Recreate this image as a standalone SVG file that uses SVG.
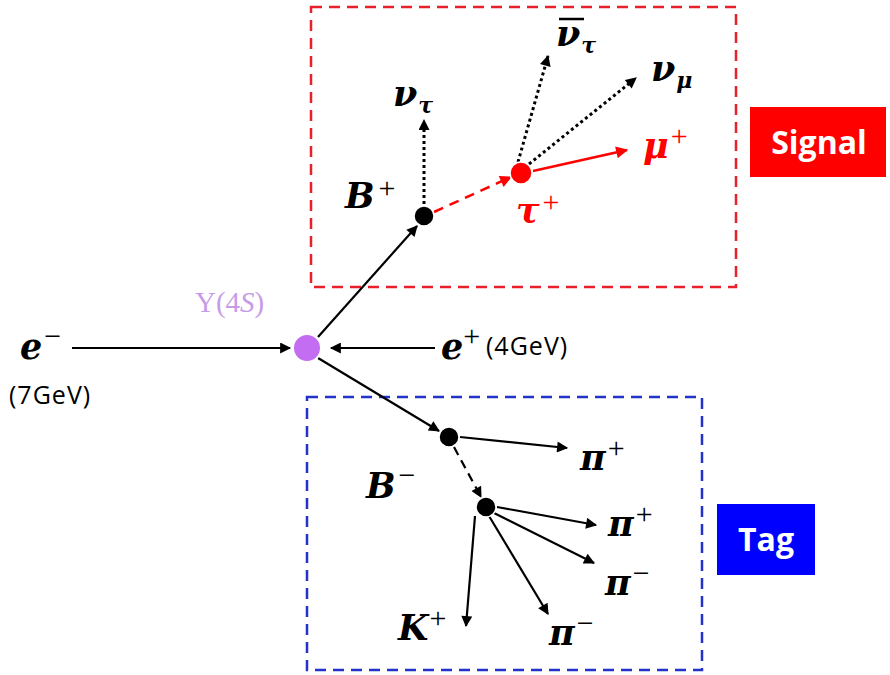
<svg xmlns="http://www.w3.org/2000/svg" width="890" height="675" viewBox="0 0 890 675">
<style>
.m{font-family:"DejaVu Serif","Liberation Serif",serif;font-weight:bold;font-style:italic;font-size:35px;fill:#000}
.sup{font-family:"Liberation Serif","DejaVu Serif",serif;font-weight:normal;font-style:normal;font-size:30px}
.sub{font-family:"DejaVu Serif","Liberation Serif",serif;font-weight:bold;font-style:italic;font-size:22px}
.s{font-family:"Open Sans","Liberation Sans",sans-serif;font-size:25px;letter-spacing:1px;fill:#000}
.ln{stroke:#000;stroke-width:2.2;fill:none}
.dot{stroke:#000;stroke-width:3;fill:none;stroke-dasharray:3 3}
.lab{font-family:"Open Sans","Liberation Sans",sans-serif;font-weight:bold;font-size:32px;fill:#fff;text-anchor:middle}
</style>
<defs>
<marker id="ab" viewBox="0 0 10 10" refX="9" refY="5" markerWidth="14" markerHeight="11" markerUnits="userSpaceOnUse" orient="auto"><path d="M0,0 L10,5 L0,10 z" fill="#000"/></marker>
<marker id="ar" viewBox="0 0 10 10" refX="9" refY="5" markerWidth="15" markerHeight="12" markerUnits="userSpaceOnUse" orient="auto"><path d="M0,0 L10,5 L0,10 z" fill="#ff0000"/></marker>
</defs>
<rect width="890" height="675" fill="#fff"/>
<g id="signal-box"><rect x="311" y="7" width="425" height="280" fill="none" stroke="#e8202a" stroke-width="2.5" stroke-dasharray="11 7"/></g>
<g id="tag-box"><rect x="307" y="397" width="395" height="273" fill="none" stroke="#2233cc" stroke-width="2.5" stroke-dasharray="11 7"/></g>
<g id="signal-label"><rect x="750" y="107" width="136" height="70" fill="#ff0000"/><text class="lab" x="819" y="154">Signal</text></g>
<g id="tag-label"><rect x="717" y="504" width="98" height="71" fill="#0000ff"/><text class="lab" x="766" y="551">Tag</text></g>
<g id="connectors">
<line class="ln" x1="72" y1="348" x2="290" y2="348" marker-end="url(#ab)"/>
<line class="ln" x1="435" y1="348" x2="331" y2="348" marker-end="url(#ab)"/>
<line class="ln" x1="318" y1="337" x2="417" y2="226" marker-end="url(#ab)"/>
<line class="ln" x1="318" y1="358" x2="439" y2="431" marker-end="url(#ab)"/>
<line x1="434" y1="212" x2="511" y2="177" stroke="#ff0000" stroke-width="2.5" stroke-dasharray="10 7" marker-end="url(#ar)"/>
<line class="dot" x1="424" y1="204" x2="424" y2="120" marker-end="url(#ab)"/>
<line class="dot" x1="518" y1="162" x2="548" y2="56" marker-end="url(#ab)"/>
<line class="dot" x1="529" y1="164" x2="636" y2="78" marker-end="url(#ab)"/>
<line x1="533" y1="171" x2="627" y2="150" stroke="#ff0000" stroke-width="2.5" marker-end="url(#ar)"/>
<line class="ln" x1="460" y1="437" x2="567" y2="448" marker-end="url(#ab)"/>
<line class="ln" x1="454" y1="447" x2="481" y2="497" stroke-dasharray="9 6" marker-end="url(#ab)"/>
<line class="ln" x1="497" y1="507" x2="596" y2="525" marker-end="url(#ab)"/>
<line class="ln" x1="494" y1="513" x2="594" y2="563" marker-end="url(#ab)"/>
<line class="ln" x1="489" y1="516" x2="548" y2="614" marker-end="url(#ab)"/>
<line class="ln" x1="475" y1="516" x2="466" y2="626" marker-end="url(#ab)"/>
</g>
<g id="upsilon"><circle cx="307" cy="348" r="14" fill="#c36df2" stroke="#fff" stroke-width="2"/><text x="195" y="312" font-family="Liberation Serif,serif" font-size="29" fill="#c89be9"><tspan font-style="normal">Υ(4</tspan><tspan font-style="italic">S</tspan><tspan>)</tspan></text></g>
<g id="b-plus"><circle cx="424" cy="216" r="10" fill="#000" stroke="#fff" stroke-width="1.5"/><text class="m" x="345" y="208">B<tspan class="sup" dx="4" dy="-10">+</tspan></text></g>
<g id="tau"><circle cx="521" cy="173" r="11" fill="#ff0000" stroke="#fff" stroke-width="1.5"/><text class="m" x="516" y="223" style="fill:#ff0000">τ<tspan class="sup" dx="3" dy="-11">+</tspan></text></g>
<g id="b-minus"><circle cx="449" cy="437" r="10" fill="#000" stroke="#fff" stroke-width="1.5"/><text class="m" x="366" y="498">B<tspan class="sup" dx="3" dy="-13">−</tspan></text></g>
<g id="d-vertex"><circle cx="486" cy="507" r="10" fill="#000" stroke="#fff" stroke-width="1.5"/></g>
<g id="e-minus"><text class="m" x="20" y="359">e<tspan class="sup" dx="2" dy="-13">−</tspan></text><text class="s" x="9" y="404">(7GeV)</text></g>
<g id="e-plus"><text class="m" x="441" y="359">e<tspan class="sup" dx="0" dy="-13">+</tspan></text><text class="s" x="486" y="355">(4GeV)</text></g>
<g id="nu-tau"><text class="m" x="393" y="106">ν<tspan class="sub" dx="1" dy="7">τ</tspan></text></g>
<g id="nubar-tau"><text class="m" x="556" y="46">ν<tspan class="sub" dx="1" dy="7">τ</tspan></text><line x1="559" y1="19" x2="584" y2="19" stroke="#000" stroke-width="2.5"/></g>
<g id="nu-mu"><text class="m" x="651" y="81">ν<tspan class="sub" dx="1" dy="7">μ</tspan></text></g>
<g id="mu-plus"><text class="m" x="643" y="158" style="fill:#ff0000">μ<tspan class="sup" dx="2" dy="-12">+</tspan></text></g>
<g id="pi1"><text class="m" x="580" y="470">π<tspan class="sup" dx="2" dy="-12">+</tspan></text></g>
<g id="pi2"><text class="m" x="608" y="536">π<tspan class="sup" dx="2" dy="-12">+</tspan></text></g>
<g id="pi3"><text class="m" x="605" y="595">π<tspan class="sup" dx="2" dy="-12">−</tspan></text></g>
<g id="pi4"><text class="m" x="549" y="645">π<tspan class="sup" dx="2" dy="-12">−</tspan></text></g>
<g id="k-plus"><text class="m" x="398" y="640">K<tspan class="sup" dx="1" dy="-12">+</tspan></text></g>
</svg>
